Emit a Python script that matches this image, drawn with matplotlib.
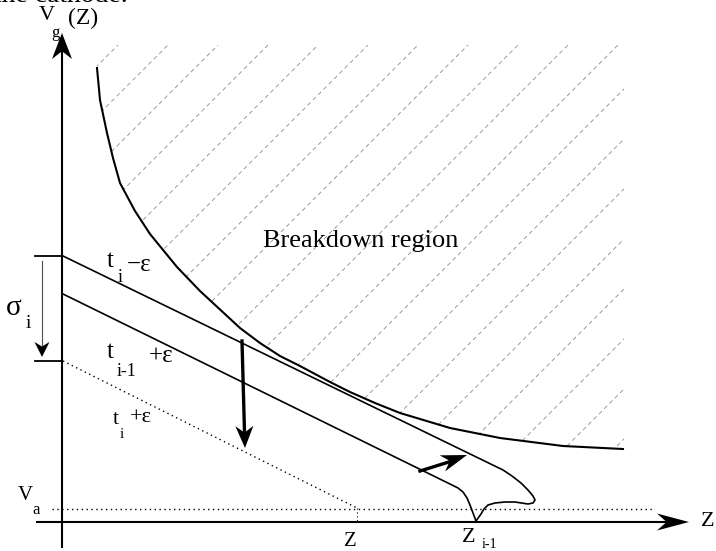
import numpy as np
import matplotlib
matplotlib.use("Agg")
import matplotlib.pyplot as plt
from matplotlib.patches import Polygon

# canvas in pixel units (x right, y down)
W, H = 716, 551

# breakdown boundary curve
curve_x = [97, 100, 107, 113, 120, 135, 150, 177, 200, 240, 260, 280, 300, 315, 330, 350, 375, 400, 450, 500, 563, 623]
curve_y = [68, 100, 133, 158, 183, 211, 234, 267, 291, 328, 343, 356, 366, 374, 382, 392, 403, 413, 428, 438, 446, 449]

# t_i - eps line with the loop at its end
upper_x = [63, 503, 512, 521, 528, 533, 535, 533, 528, 515, 505, 495, 488, 484, 481, 476]
upper_y = [256, 470, 476, 483, 490, 496, 500, 503, 504, 502, 502, 503, 505, 509, 514, 521]

# t_{i-1} + eps line
lower_x = [63, 452, 458, 463, 467, 470, 473, 476]
lower_y = [294, 485, 488, 492, 498, 505, 513, 521]

# t_i + eps dotted line and V_a level
tplus_x = [63, 357]
tplus_y = [361, 508]
va_y = 509
va_x = [52, 653]

# axes
axis_x0 = 62
axis_y0 = 522
hatch_top = 45
hatch_right = 624

SERIF = ["Liberation Serif", "DejaVu Serif"]

fig = plt.figure(figsize=(W / 100, H / 100), dpi=100)
ax = fig.add_axes([0, 0, 1, 1])
ax.set_xlim(0, W)
ax.set_ylim(H, 0)
ax.axis("off")


def head(tip, frm, length, width, notch=0.3):
    tip = np.array(tip, float)
    d = tip - np.array(frm, float)
    d /= np.hypot(*d)
    n = np.array([-d[1], d[0]])
    base = tip - d * length
    pts = np.array([tip, base + n * width / 2, tip - d * length * (1 - notch), base - n * width / 2])
    ax.fill(pts[:, 0], pts[:, 1], color="k", lw=0, zorder=5)


# hatching of breakdown region (faint dashed diagonals clipped to the region)
region = Polygon(list(zip(curve_x, curve_y)) + [(hatch_right, curve_y[-1]), (hatch_right, hatch_top), (curve_x[0], hatch_top)],
                 closed=True, fc="none", ec="none")
ax.add_patch(region)
for c in range(113, 1200, 50):
    xs = np.array([0, W])
    ln, = ax.plot(xs, c - xs, color="0.55", lw=0.6, dashes=(5, 4))
    ln.set_clip_path(region)

# axes lines
ax.plot([axis_x0, axis_x0], [547, 45], color="k", lw=1.5)
head((axis_x0, 33), (axis_x0, 100), 26, 20)
ax.plot([37, 670], [axis_y0, axis_y0], color="k", lw=1.5)
head((689, axis_y0), (600, axis_y0), 32, 17)

# ticks on vertical axis and sigma arrow
ax.plot([35, axis_x0], [256, 256], color="k", lw=1.3)
ax.plot([35, axis_x0], [361, 361], color="k", lw=1.3)
ax.plot([42, 42], [261, 345], color="0.3", lw=0.8)
head((42, 357), (42, 300), 15, 15)

# curves
ax.plot(curve_x, curve_y, color="k", lw=1.5)
ax.plot(upper_x, upper_y, color="k", lw=1.2)
ax.plot(lower_x, lower_y, color="k", lw=1.2)
ax.plot(tplus_x, tplus_y, color="k", lw=1.0, linestyle=(0, (1, 2.5)))
ax.plot([tplus_x[1], tplus_x[1]], [tplus_y[1], axis_y0], color="k", lw=0.8, linestyle=(0, (1, 2.5)))
ax.plot(va_x, [va_y, va_y], color="k", lw=1.0, linestyle=(0, (1, 2.5)))

# thick arrows
ax.plot([242, 244.5], [341, 432], color="k", lw=2.4)
head((245, 448), (242, 341), 22, 18)
ax.plot([420, 452], [471, 461], color="k", lw=2.4)
head((467, 455), (420, 471), 26, 17)

# labels
def txt(x, y, s, size, **kw):
    ax.text(x, y, s, fontsize=size, family=SERIF, ha="center", va="center", **kw)

ax.text(128, 2, "the cathode.", fontsize=20, family=SERIF, ha="right", va="baseline")
txt(47, 15, "V", 16)
txt(83, 18, "(Z)", 17)
txt(55, 33, "g", 12)
txt(14, 308, "σ", 21)
txt(28, 324, "i", 14)
txt(110, 261, "t", 18)
txt(120, 278, "i", 13)
txt(139, 265, "−ε", 18)
txt(110, 352, "t", 18)
txt(127, 372, "i-1", 13)
txt(161, 356, "+ε", 18)
txt(116, 420, "t", 16)
txt(122, 435, "i", 11)
txt(141, 418, "+ε", 16)
txt(361, 241, "Breakdown region", 19)
txt(25, 496, "V", 15)
txt(36, 510, "a", 12)
txt(350, 541, "Z", 15)
txt(469, 537, "Z", 16)
txt(489, 544, "i-1", 10)
txt(708, 521, "Z", 16)

fig.savefig("out.png", dpi=100)
